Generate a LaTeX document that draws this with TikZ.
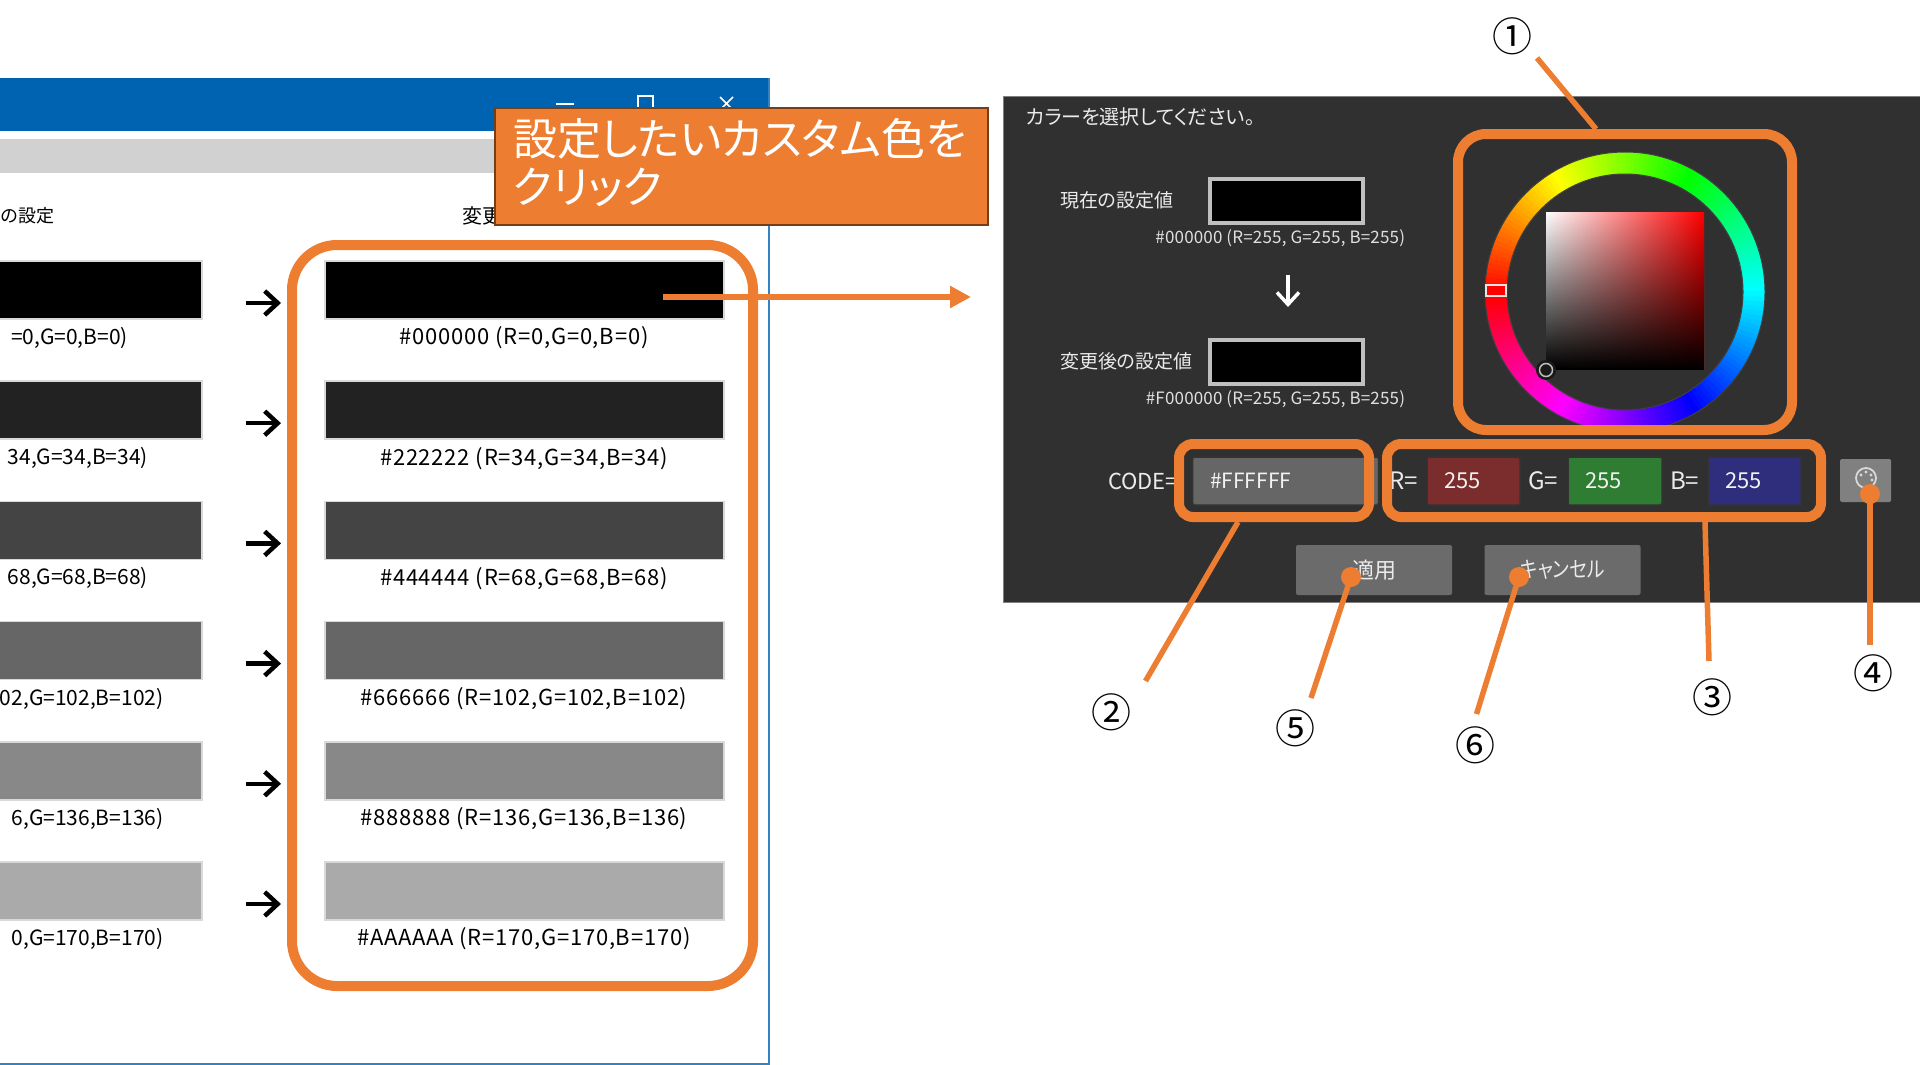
\documentclass[tikz,border=0pt]{standalone}
\usepackage{fontspec}
\usetikzlibrary{arrows.meta,positioning,fadings}
\setmainfont{Noto Sans CJK JP}[RawFeature=+palt]
\definecolor{hilite}{HTML}{ED7D31}
\definecolor{panelbg}{HTML}{303030}
\definecolor{winblue}{HTML}{0063B1}
\newcommand{\fpx}[1]{\fontsize{#1}{#1}\selectfont}
\tikzset{
  every node/.style={outer sep=0pt},
  swatch/.style={draw=black!15,line width=1.5pt,minimum height=58pt,inner sep=0pt},
  hilitebox/.style={draw=hilite,line width=10pt,inner sep=0pt},
  lead/.style={draw=hilite,line width=5.5pt},
  dot/.style={circle,fill=hilite,minimum size=20pt,inner sep=0pt},
  num/.style={font=\fpx{40},inner sep=0pt},
  lbl/.style={font=\fpx{21},inner sep=0pt},
  newlbl/.style={font=\fpx{22}\addfontfeature{LetterSpace=3.5},inner sep=0pt},
  paneltxt/.style={font=\fpx{19},text=white!92!black,inner sep=0pt},
  smalltxt/.style={font=\fpx{17}\addfontfeature{LetterSpace=1},text=white!88!black,inner sep=0pt},
  field/.style={draw=black!80,line width=1.5pt,minimum height=48pt,inner sep=0pt,rounded corners=1.5pt},
  fieldtxt/.style={font=\fpx{22},text=white!95!black,inner sep=0pt},
  sample/.style={draw=black!25,fill=black,line width=3.5pt,minimum width=153pt,minimum height=44pt,inner sep=0pt},
  btn/.style={fill=black!58,minimum width=156pt,minimum height=50pt,inner sep=0pt,rounded corners=2pt,font=\fpx{22},text=white!92!black},
}
\begin{document}
\begin{tikzpicture}[x=1pt,y=-1pt]
  \useasboundingbox (0,0) rectangle (1920,1065);
  % window
  \fill[winblue] (0,78) rectangle (769,131);
  \fill[black!18] (0,139) rectangle (769,173);
  \draw[winblue!80,line width=1.5pt] (769,78) -- (769,1064) -- (0,1064);
  \draw[white,line width=1.5pt] (556,104) -- (574,104);
  \draw[white,line width=1.5pt] (638,96) rectangle (653,112);
  \draw[white,line width=1.5pt] (720,97) -- (733,110) (733,97) -- (720,110);
  \node[font=\fpx{18},inner sep=0pt,anchor=east] (headold) at (54.5,216) {の設定};
  \node[font=\fpx{20},inner sep=0pt,anchor=west] (headnew) at (462,216) {変更};
  \foreach \row/\val/\hex/\tail in {0/0/000000/{=0,G=0,B=0)},1/34/222222/{34,G=34,B=34)},2/68/444444/{68,G=68,B=68)},3/102/666666/{02,G=102,B=102)},4/136/888888/{6,G=136,B=136)},5/170/AAAAAA/{0,G=170,B=170)}}{
    \node[swatch,fill={rgb,255:red,\val;green,\val;blue,\val},minimum width=206pt,anchor=north east] (old\row) at (202,{261+120.2*\row}) {};
    \node[swatch,fill={rgb,255:red,\val;green,\val;blue,\val},minimum width=399pt,anchor=north west] (new\row) at (325,{261+120.2*\row}) {};
    \node[lbl,anchor=east] (oldtxt\row) at ({\val>100 ? 163.5 : (\val>0 ? 148 : 128)},{338+120.2*\row}) {\tail};
    \node[newlbl] (newtxt\row) at (524,{338+120.2*\row}) {\#\hex\ (R=\val,G=\val,B=\val)};
    \coordinate (arfrom\row) at (246,{303+120.2*\row});
    \coordinate (arto\row) at (281,{303+120.2*\row});
    \draw[line width=4.5pt,-{Straight Barb[length=13pt,width=24pt]}] (arfrom\row) -- (arto\row);
  }
  % callout
  \node[draw=hilite!50!black,fill=hilite,line width=2.5pt,minimum width=493pt,minimum height=117pt,inner sep=0pt,anchor=north west] (callout) at (495,108) {};
  \node[font=\fontsize{44}{48}\selectfont,text=white,align=left,inner sep=0pt,anchor=west] (callouttxt) at (513,162.5) {設定したいカスタム色を\\クリック};
  \node[hilitebox,rounded corners=45pt,minimum width=461pt,minimum height=741pt,anchor=north west] (listbox) at (292,245) {};
  \coordinate (pickfrom) at (663,297);
  \coordinate (pickto) at (971,297);
  \draw[draw=hilite,line width=6.5pt,-{Triangle[length=21pt,width=21pt]}] (pickfrom) -- (pickto);
  % dialog
  \fill[panelbg,draw=black!50,line width=1pt] (1003,96) rectangle (1925,602);
  \node[paneltxt,anchor=west,font=\fpx{20}] (title) at (1026,117) {カラーを選択してください。};
  \node[paneltxt,anchor=west] (curlbl) at (1060,200) {現在の設定値};
  \node[sample,anchor=north west] (cur) at (1210,179) {};
  \node[smalltxt,anchor=east] (curtxt) at (1405,238) {\#000000 (R=255, G=255, B=255)};
  \node[paneltxt,anchor=west] (newlbl) at (1060,361) {変更後の設定値};
  \node[sample,anchor=north west] (after) at (1210,340) {};
  \node[smalltxt,anchor=east] (aftertxt) at (1405,399) {\#F000000 (R=255, G=255, B=255)};
  \coordinate (downfrom) at (1288,275);
  \coordinate (downto) at (1288,307);
  \draw[white,line width=3.5pt,-{Straight Barb[length=12pt,width=22pt]}] (downfrom) -- (downto);
  % colour wheel
  \begin{scope}[shift={(1625,292)},y=1pt]
    \foreach \a in {0,2,...,358}{
      \pgfmathsetmacro\hue{mod(540-\a,360)}
      \definecolor{wheelcol}{Hsb}{\hue,1,1}
      \fill[wheelcol] (\a:118) -- (\a:140) -- (\a+2.4:140) -- (\a+2.4:118) -- cycle;
    }
    \draw[black!75,line width=1pt] (0,0) circle (118) (0,0) circle (140);
  \end{scope}
  \shade[left color=white,right color=red] (1546,212) rectangle (1704,369);
  \fill[black,path fading=north] (1546,212) rectangle (1704,369);
  \draw[black,line width=2pt] (1546,369) -- (1704,369);
  \node[draw=white!90!black,fill=red,line width=2.5pt,minimum width=20pt,minimum height=11pt,inner sep=0pt] (huemark) at (1496,290.5) {};
  \node[circle,fill=black!90,minimum size=20pt,inner sep=0pt] (svmarkbg) at (1546,370) {};
  \node[circle,draw=black!25,line width=1.5pt,minimum size=13pt,inner sep=0pt] (svmark) at (1546,370) {};
  % input row
  \node[paneltxt,anchor=west,font=\fpx{22}] (codelbl) at (1108,481) {CODE=};
  \node[field,fill=black!60,minimum width=186pt,anchor=west] (codefield) at (1192.5,481) {};
  \node[fieldtxt,anchor=west,font=\fpx{21}] (codetxt) at (1210,481) {\#FFFFFF};
  \node[paneltxt,anchor=west,font=\fpx{24}] (rlbl) at (1389,481) {R=};
  \node[paneltxt,anchor=west,font=\fpx{24}] (glbl) at (1528,481) {G=};
  \node[paneltxt,anchor=west,font=\fpx{24}] (blbl) at (1670,481) {B=};
  \node[field,fill={rgb,255:red,123;green,45;blue,45},minimum width=93pt,anchor=west] (rfield) at (1427,481) {};
  \node[field,fill={rgb,255:red,46;green,125;blue,50},minimum width=94pt,anchor=west] (gfield) at (1568,481) {};
  \node[field,fill={rgb,255:red,46;green,46;blue,125},minimum width=93pt,anchor=west] (bfield) at (1708,481) {};
  \node[fieldtxt,anchor=west] (rval) at (1444,481) {255};
  \node[fieldtxt,anchor=west] (gval) at (1585,481) {255};
  \node[fieldtxt,anchor=west] (bval) at (1725,481) {255};
  \node[fill=black!50,minimum width=51pt,minimum height=43pt,inner sep=0pt,rounded corners=1.5pt] (palette) at (1865.5,480.5) {};
  \draw[white!85!black,line width=1.8pt] (1866,478) circle (10);
  \foreach \dx/\dy in {-5/-3,0/-6,5/-3,6/2}{
    \fill[white!85!black] (1866+\dx,478+\dy) circle (1.6);
  }
  \node[btn] (apply) at (1374,570) {適用};
  \node[btn] (cancel) at (1562.5,570) {\scalebox{0.85}[1]{キャンセル}};
  % highlights and leaders
  \node[hilitebox,rounded corners=28pt,minimum width=334pt,minimum height=296pt,anchor=north west] (wheelbox) at (1458,134) {};
  \node[hilitebox,rounded corners=14pt,minimum width=190pt,minimum height=73pt,anchor=north west] (codebox) at (1179,444) {};
  \node[hilitebox,rounded corners=14pt,minimum width=434pt,minimum height=73pt,anchor=north west] (rgbbox) at (1387,444) {};
  \node[num] (n1) at (1512,36) {①};
  \node[num] (n2) at (1111.5,712) {②};
  \node[num] (n3) at (1712,697) {③};
  \node[num] (n4) at (1873,673) {④};
  \node[num] (n5) at (1295,728) {⑤};
  \node[num] (n6) at (1475,745) {⑥};
  \coordinate (lead1) at (1537,58);
  \coordinate (lead1b) at (1596,129);
  \coordinate (lead2) at (1145.5,681);
  \coordinate (lead2b) at (1238,522);
  \coordinate (lead3) at (1709,661);
  \coordinate (lead3b) at (1705,522);
  \coordinate (lead4) at (1870,645);
  \coordinate (lead5) at (1311,698);
  \coordinate (lead6) at (1476.5,714);
  \node[dot] (dot4) at (1870,494) {};
  \node[dot] (dot5) at (1351,577) {};
  \node[dot] (dot6) at (1519,577) {};
  \draw[lead] (lead1) -- (lead1b);
  \draw[lead] (lead2) -- (lead2b);
  \draw[lead] (lead3) -- (lead3b);
  \draw[lead] (lead4) -- (dot4.center);
  \draw[lead] (lead5) -- (dot5.center);
  \draw[lead] (lead6) -- (dot6.center);
\end{tikzpicture}
\end{document}
